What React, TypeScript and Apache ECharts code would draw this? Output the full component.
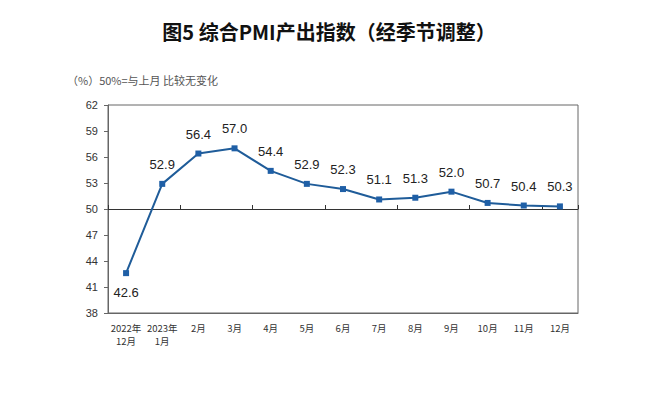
import React, { useEffect, useRef } from "react";
import * as echarts from "echarts";

const categories = ["2022年\n12月", "2023年\n1月", "2月", "3月", "4月", "5月", "6月", "7月", "8月", "9月", "10月", "11月", "12月"];
const values = [42.6, 52.9, 56.4, 57.0, 54.4, 52.9, 52.3, 51.1, 51.3, 52.0, 50.7, 50.4, 50.3];
const yTicks = [38, 41, 44, 47, 50, 53, 56, 59, 62];

export default function App() {
  const ref = useRef<HTMLDivElement>(null);
  useEffect(() => {
    const chart = echarts.init(ref.current!, null, { renderer: "svg" });
    const font = "Arial, 'Liberation Sans', 'Noto Sans CJK SC', sans-serif";
    chart.setOption({
      animation: false,
      backgroundColor: "#fff",
      title: [
        {
          text: "图5 综合PMI产出指数（经季节调整）",
          left: "center",
          top: 16,
          textStyle: { fontSize: 20, fontWeight: "bold", color: "#111", fontFamily: "'Noto Sans CJK SC', sans-serif" },
        },
        {
          text: "（%）50%=与上月 比较无变化",
          left: 62,
          top: 69,
          textStyle: { fontSize: 11, fontWeight: "normal", color: "#555", fontFamily: "'Noto Sans CJK SC', sans-serif" },
        },
      ],
      grid: { left: 108, right: 80, top: 105, bottom: 87, show: true, borderColor: "#666", borderWidth: 1 },
      xAxis: [
        {
          type: "category",
          data: categories,
          boundaryGap: true,
          axisLine: { show: true, lineStyle: { color: "#666" } },
          axisTick: { show: false },
          axisLabel: { fontSize: 9.5, color: "#333", margin: 8, lineHeight: 13, fontFamily: "'Noto Sans CJK SC', sans-serif", interval: 0 },
        },
        {
          type: "category",
          data: categories,
          boundaryGap: true,
          position: "bottom",
          offset: -104,
          axisLine: { show: true, lineStyle: { color: "#333" } },
          axisTick: { show: true, inside: true, length: 4, lineStyle: { color: "#333" } },
          axisLabel: { show: false },
        },
      ],
      yAxis: {
        type: "value",
        min: yTicks[0],
        max: yTicks[yTicks.length - 1],
        interval: 3,
        axisLine: { show: true, lineStyle: { color: "#666" } },
        axisTick: { show: true, length: 4, lineStyle: { color: "#666" } },
        splitLine: { show: false },
        axisLabel: { fontSize: 11, color: "#333", margin: 10, fontFamily: font },
      },
      series: [
        {
          type: "line",
          data: values.map((v, i) => ({
            value: v,
            label: i === 0 ? { position: "bottom", distance: 10 } : undefined,
          })),
          symbol: "rect",
          symbolSize: 6,
          lineStyle: { color: "#1f5c99", width: 2 },
          itemStyle: { color: "#1f5fa6" },
          label: {
            show: true,
            position: "top",
            distance: 10,
            fontSize: 13,
            color: "#222",
            fontFamily: font,
            formatter: (p: any) => Number(p.value).toFixed(1),
          },
        },
      ],
    });
    return () => chart.dispose();
  }, []);
  return <div ref={ref} style={{ width: 658, height: 400, margin: -8 }} />;
}
